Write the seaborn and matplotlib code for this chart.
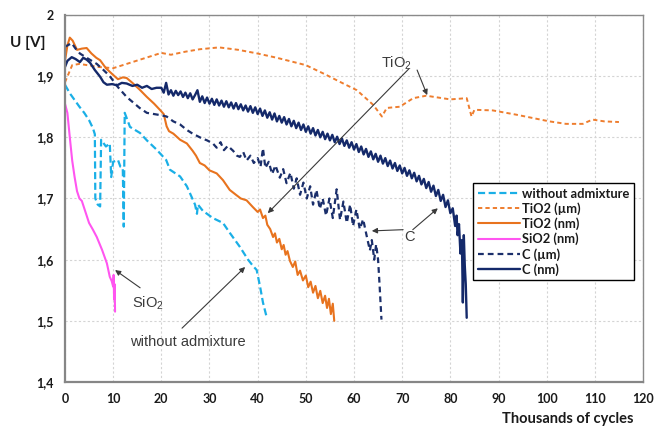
import matplotlib
matplotlib.use("Agg")
import matplotlib.pyplot as plt
import seaborn as sns
import pandas as pd

# ---- data (thousands of cycles, voltage) ----
wo_x = [0, 1, 2, 3, 4, 5, 5.8, 6.2, 6.3, 6.8, 7.3, 7.5, 8.5, 9.3, 9.6, 10, 11, 11.5,
        12, 12.2, 12.4, 13.5, 15.6, 17, 19, 21, 21.8, 23.9, 25.3, 27, 27.4, 27.6,
        28.6, 30.7, 32.8, 34.2, 36.3, 38, 39, 39.8, 40.5, 41.1, 41.9]
wo_y = [1.886, 1.872, 1.861, 1.850, 1.840, 1.828, 1.815, 1.805, 1.700, 1.690, 1.687,
        1.796, 1.785, 1.790, 1.735, 1.760, 1.763, 1.752, 1.750, 1.654, 1.840, 1.817,
        1.807, 1.795, 1.780, 1.763, 1.747, 1.736, 1.720, 1.690, 1.675, 1.690, 1.680,
        1.668, 1.660, 1.644, 1.621, 1.600, 1.590, 1.583, 1.556, 1.530, 1.505]

tio2_um_x = [0, 1.5, 3, 7, 10, 14, 20, 22, 25, 28, 32, 36, 40, 44, 50, 54, 57, 60.6,
             64, 65.8, 66.8, 69.5, 72.3, 75, 80, 83.4, 84.4, 85, 88.8, 93.7, 100.6,
             104, 107.5, 109.5, 112, 115]
tio2_um_y = [1.890, 1.918, 1.920, 1.915, 1.913, 1.923, 1.938, 1.935, 1.940, 1.944,
             1.947, 1.943, 1.937, 1.930, 1.918, 1.903, 1.891, 1.877, 1.853, 1.834,
             1.848, 1.850, 1.864, 1.868, 1.862, 1.864, 1.834, 1.845, 1.844, 1.837,
             1.826, 1.822, 1.822, 1.829, 1.826, 1.825]

tio2_nm_x = [0, 0.5, 1.0, 1.6, 2.5, 3.5, 4.5, 5.5, 6.5, 7.3, 8.5, 10, 11, 12, 12.8,
             14, 15.5, 17, 18.5, 19.7, 20.5, 21.1, 21.6, 22.5, 23.9, 25.3, 26.5, 27.2,
             28, 29, 30, 31.5, 32.8, 34.2, 35.5, 36.5, 37.7, 39, 40, 40.5, 41.1, 41.6,
             42, 42.6, 43.2, 43.6, 44, 44.5, 45, 45.4, 45.8, 46.2, 46.7, 47.3, 47.8,
             48.3, 48.8, 49.4, 50, 50.5, 51, 51.5, 52, 52.5, 53, 53.5, 54, 54.4, 54.8,
             55.2, 55.6, 55.9]
tio2_nm_y = [1.925, 1.950, 1.963, 1.958, 1.943, 1.945, 1.946, 1.937, 1.930, 1.926,
             1.913, 1.902, 1.895, 1.898, 1.897, 1.889, 1.878, 1.866, 1.855, 1.845,
             1.838, 1.818, 1.810, 1.806, 1.796, 1.790, 1.778, 1.770, 1.758, 1.754,
             1.746, 1.741, 1.730, 1.714, 1.706, 1.700, 1.697, 1.686, 1.678, 1.682,
             1.668, 1.672, 1.657, 1.650, 1.637, 1.643, 1.628, 1.634, 1.617, 1.624,
             1.608, 1.614, 1.598, 1.588, 1.597, 1.575, 1.582, 1.566, 1.574, 1.555,
             1.564, 1.546, 1.557, 1.537, 1.549, 1.529, 1.541, 1.521, 1.536, 1.511,
             1.528, 1.500]

sio2_x = [0, 0.5, 1.0, 1.5, 2.0, 2.5, 3.0, 3.5, 4.0, 5.0, 5.8, 6.6, 7.7, 8.7, 9.3,
          9.7, 10.0, 10.1, 10.2, 10.3, 10.4]
sio2_y = [1.855, 1.840, 1.800, 1.762, 1.735, 1.712, 1.700, 1.696, 1.684, 1.660,
          1.649, 1.637, 1.616, 1.594, 1.572, 1.565, 1.556, 1.575, 1.535, 1.560, 1.515]

c_um_x = [0, 1.4, 2.2, 3.1, 4.5, 6.6, 8, 9.3, 11, 12.8, 14, 15.5, 17, 18.5, 20, 21.1,
          22.5, 23.9, 25.3, 26.5, 27.5, 28.5, 29.5, 30.7, 31.5, 32.3, 33, 33.8, 34.9,
          35.7, 36.3, 37, 37.7, 38.5, 39.2, 40, 40.6, 41.1, 41.6, 42.3, 43, 43.7,
          44.6, 45.3, 46, 46.8, 47.5, 48.1, 48.8, 49.5, 50.2, 50.9, 51.5, 52.2, 52.9,
          53.5, 54.2, 54.9, 55.6, 56.4, 57.1, 57.8, 58.5, 59.2, 59.8, 60.5, 61.2,
          61.9, 62.6, 63.3, 63.7, 64.2, 64.6, 65.0, 65.3, 65.7]
c_um_y = [1.948, 1.954, 1.945, 1.937, 1.930, 1.920, 1.910, 1.900, 1.882, 1.866,
          1.858, 1.848, 1.840, 1.838, 1.836, 1.834, 1.826, 1.821, 1.812, 1.806,
          1.802, 1.798, 1.795, 1.790, 1.783, 1.792, 1.779, 1.786, 1.778, 1.770,
          1.768, 1.776, 1.762, 1.770, 1.758, 1.766, 1.752, 1.782, 1.750, 1.760,
          1.740, 1.754, 1.734, 1.748, 1.725, 1.742, 1.716, 1.733, 1.706, 1.726,
          1.700, 1.720, 1.690, 1.714, 1.683, 1.700, 1.672, 1.700, 1.668, 1.715,
          1.665, 1.695, 1.660, 1.690, 1.655, 1.682, 1.650, 1.666, 1.640, 1.615,
          1.632, 1.600, 1.625, 1.600, 1.560, 1.502]

c_nm_x = [0, 0.5, 1.4, 2.2, 3.1, 3.8, 4.5, 5.2, 6.2, 7.3, 8.0, 8.7, 9.8, 10.8, 11.8,
          12.8, 14, 15, 16, 17, 18, 19,
          20.0, 20.5, 21.0, 21.5, 22.0, 22.5, 23.0, 23.5, 24.0, 24.5, 25.0, 25.5,
          26.0, 26.5, 27.0, 27.5, 28.0, 28.5, 29.0, 29.5, 30.0, 30.5, 31.0, 31.5,
          32.0, 32.5, 33.0, 33.5, 34.0, 34.5, 35.0, 35.5, 36.0, 36.5, 37.0, 37.5,
          38.0, 38.5, 39.0, 39.5, 40.0, 40.5, 41.0, 41.5, 42.0, 42.5, 43.0, 43.5,
          44.0, 44.5, 45.0, 45.5, 46.0, 46.5, 47.0, 47.5, 48.0, 48.5, 49.0, 49.5,
          50.0, 50.5, 51.0, 51.5, 52.0, 52.5, 53.0, 53.5, 54.0, 54.5, 55.0, 55.5,
          56.0, 56.5, 57.0, 57.5, 58.0, 58.5, 59.0, 59.5, 60.0, 60.5, 61.0, 61.5,
          62.0, 62.5, 63.0, 63.5, 64.0, 64.5, 65.0, 65.5, 66.0, 66.5, 67.0, 67.5,
          68.0, 68.5, 69.0, 69.5, 70.0, 70.5, 71.0, 71.5, 72.0, 72.5, 73.0, 73.5,
          74.0, 74.5, 75.0, 75.5, 76.0, 76.5, 77.0, 77.5, 78.0, 78.5, 79.0, 79.5,
          80.0, 80.5, 81.0, 81.3, 81.5, 81.8, 82.1, 82.4, 82.6, 82.8, 83.0, 83.2,
          83.4]
c_nm_y = [1.915, 1.925, 1.931, 1.928, 1.923, 1.930, 1.927, 1.922, 1.910, 1.899,
          1.890, 1.886, 1.887, 1.885, 1.889, 1.888, 1.884, 1.886, 1.881, 1.884,
          1.879, 1.881,
          1.881, 1.873, 1.889, 1.870, 1.877, 1.868, 1.876, 1.869, 1.875, 1.866,
          1.873, 1.864, 1.872, 1.862, 1.869, 1.877, 1.858, 1.867, 1.856, 1.865,
          1.855, 1.863, 1.853, 1.862, 1.852, 1.860, 1.850, 1.859, 1.849, 1.857,
          1.847, 1.856, 1.846, 1.854, 1.844, 1.852, 1.842, 1.851, 1.840, 1.849,
          1.838, 1.847, 1.835, 1.844, 1.832, 1.841, 1.829, 1.839, 1.826, 1.835,
          1.824, 1.833, 1.821, 1.830, 1.818, 1.827, 1.815, 1.824, 1.812, 1.821,
          1.809, 1.818, 1.806, 1.815, 1.803, 1.812, 1.800, 1.809, 1.797, 1.806,
          1.795, 1.804, 1.792, 1.801, 1.789, 1.798, 1.786, 1.795, 1.783, 1.792,
          1.780, 1.789, 1.776, 1.785, 1.772, 1.781, 1.768, 1.777, 1.764, 1.773,
          1.760, 1.770, 1.757, 1.766, 1.753, 1.762, 1.749, 1.758, 1.745, 1.754,
          1.741, 1.750, 1.737, 1.746, 1.733, 1.742, 1.728, 1.737, 1.723, 1.732,
          1.717, 1.727, 1.711, 1.721, 1.704, 1.714, 1.696, 1.706, 1.686, 1.697,
          1.676, 1.684, 1.655, 1.672, 1.640, 1.658, 1.610, 1.632, 1.530, 1.640,
          1.590, 1.560, 1.505]

x_ticks = [0, 10, 20, 30, 40, 50, 60, 70, 80, 90, 100, 110, 120]
y_ticks = [1.4, 1.5, 1.6, 1.7, 1.8, 1.9, 2.0]
y_tick_labels = ["1,4", "1,5", "1,6", "1,7", "1,8", "1,9", "2"]

series = [
    ("without admixture", wo_x, wo_y, "#1AAFE6", (0, (3.2, 1.6)), 1.6),
    ("TiO2 (µm)", tio2_um_x, tio2_um_y, "#EE7D2E", (0, (2.2, 1.6)), 1.4),
    ("TiO2 (nm)", tio2_nm_x, tio2_nm_y, "#E8731E", "-", 1.5),
    ("SiO2 (nm)", sio2_x, sio2_y, "#FF55F0", "-", 1.5),
    ("C (µm)", c_um_x, c_um_y, "#1B2F6B", (0, (2.6, 1.8)), 1.6),
    ("C (nm)", c_nm_x, c_nm_y, "#14296A", "-", 1.7),
]

sns.set_style("white")
plt.rcParams["mathtext.fontset"] = "custom"
plt.rcParams["mathtext.rm"] = "Liberation Sans"
plt.rcParams["mathtext.default"] = "rm"

fig = plt.figure(figsize=(6.55, 4.28), dpi=100)
ax = fig.add_axes([0.0992, 0.1075, 0.8825, 0.8575])

handles = []
for name, xs, ys, col, ls, lw in series:
    df = pd.DataFrame({"x": xs, "y": ys})
    sns.lineplot(data=df, x="x", y="y", ax=ax, color=col, linewidth=lw,
                 estimator=None, sort=False)
    line = ax.lines[-1]
    line.set_linestyle(ls)
    line.set_label(name)
    handles.append(line)

ax.set_xlim(0, 120)
ax.set_ylim(1.4, 2.0)
ax.set_xticks(x_ticks)
ax.set_yticks(y_ticks)
ax.set_yticklabels(y_tick_labels)
ax.set_xlabel("")
ax.set_ylabel("")

for lab in ax.get_xticklabels() + ax.get_yticklabels():
    lab.set_fontfamily("Lato")
    lab.set_fontweight("bold")
    lab.set_fontsize(9)
    lab.set_color("#1a1a1a")
ax.tick_params(axis="both", direction="out", length=4, width=1, color="#868686", pad=4)

ax.grid(True, color="#D4D4D4", linestyle=(0, (2, 2)), linewidth=0.8)
ax.set_axisbelow(True)
for side in ["left", "bottom"]:
    ax.spines[side].set_color("#868686")
    ax.spines[side].set_linewidth(1.6)
for side in ["top", "right"]:
    ax.spines[side].set_color("#8a8a8a")
    ax.spines[side].set_linewidth(1.0)

fig.text(0.043, 0.9, "U [V]", ha="center", va="center", fontsize=11,
         fontweight="bold", family="Lato", color="#1a1a1a")
fig.text(0.867, 0.02, "Thousands of cycles", ha="center", va="center",
         fontsize=10.5, fontweight="bold", family="Lato", color="#1a1a1a")

leg = ax.legend(handles=handles, loc="upper left", bbox_to_anchor=(0.706, 0.542),
                frameon=True, fancybox=False, edgecolor="black", framealpha=1,
                prop=dict(family="Lato", weight="bold", size=9.3),
                handlelength=3.3, handletextpad=0.15, labelspacing=0.2,
                borderpad=0.35, borderaxespad=0)
leg.get_frame().set_linewidth(1.0)
for t in leg.get_texts():
    t.set_color("#1a1a1a")

# annotations
note_kw = dict(fontsize=10.5, family="Liberation Sans", color="#3a3a3a",
               ha="center", va="center")
arrow_kw = dict(arrowstyle="-|>", color="#3a3a3a", lw=0.8, mutation_scale=8,
                shrinkA=0, shrinkB=0)

ax.text(68.9, 1.9215, r"TiO$_2$", **note_kw)
ax.annotate("", xy=(42.1, 1.676), xytext=(71.4, 1.912), arrowprops=arrow_kw)
ax.annotate("", xy=(75.2, 1.869), xytext=(73.1, 1.910), arrowprops=arrow_kw)

ax.text(71.6, 1.637, "C", **note_kw)
ax.annotate("", xy=(63.7, 1.647), xytext=(70.2, 1.649), arrowprops=arrow_kw)
ax.annotate("", xy=(77.4, 1.684), xytext=(72.2, 1.649), arrowprops=arrow_kw)

ax.text(17.2, 1.529, r"SiO$_2$", **note_kw)
ax.annotate("", xy=(10.4, 1.583), xytext=(15.6, 1.554), arrowprops=arrow_kw)

ax.text(25.5, 1.465, "without admixture", **note_kw)
ax.annotate("", xy=(37.4, 1.588), xytext=(24.3, 1.488), arrowprops=arrow_kw)

fig.savefig("out.png", dpi=100)
